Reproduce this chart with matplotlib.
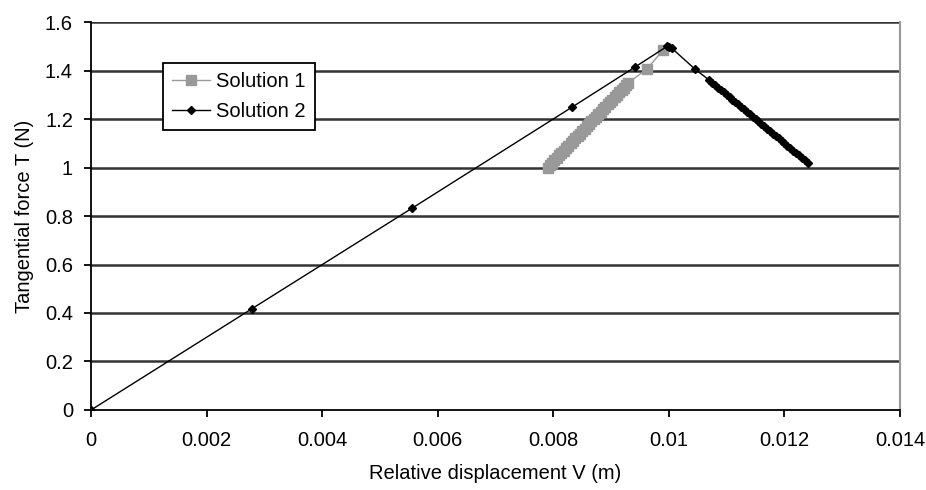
import matplotlib.pyplot as plt

plt.rcParams['font.family'] = ['Liberation Sans', 'DejaVu Sans']

# Solution 1 (grey squares)
v1 = [0.00790, 0.00794, 0.00798, 0.00802, 0.00806, 0.00810, 0.00814, 0.00818,
      0.00822, 0.00826, 0.00830, 0.00834, 0.00838, 0.00842, 0.00846, 0.00850,
      0.00854, 0.00858, 0.00862, 0.00866, 0.00870, 0.00874, 0.00878, 0.00882,
      0.00886, 0.00890, 0.00894, 0.00898, 0.00902, 0.00906, 0.00910, 0.00914,
      0.00918, 0.00922, 0.00926, 0.00930, 0.00962, 0.00990]
t1 = [1.000, 1.010, 1.020, 1.030, 1.040, 1.050, 1.060, 1.070,
      1.080, 1.090, 1.100, 1.110, 1.120, 1.130, 1.140, 1.150,
      1.160, 1.170, 1.180, 1.190, 1.200, 1.210, 1.220, 1.230,
      1.240, 1.250, 1.260, 1.270, 1.280, 1.290, 1.300, 1.310,
      1.320, 1.330, 1.340, 1.350, 1.406, 1.485]

# Solution 2 (black diamonds)
v2 = [0.0, 0.00278, 0.00556, 0.00833, 0.00941, 0.00997, 0.01000, 0.01005,
      0.01045, 0.01070, 0.01075, 0.01080, 0.01085, 0.01090, 0.01095, 0.01100,
      0.01105, 0.01110, 0.01115, 0.01120, 0.01125, 0.01130, 0.01135, 0.01140,
      0.01145, 0.01150, 0.01155, 0.01160, 0.01165, 0.01170, 0.01175, 0.01180,
      0.01185, 0.01190, 0.01195, 0.01200, 0.01205, 0.01210, 0.01215, 0.01220,
      0.01225, 0.01230, 0.01235, 0.01240]
t2 = [0.0, 0.417, 0.833, 1.250, 1.414, 1.500, 1.498, 1.492,
      1.406, 1.360, 1.350, 1.340, 1.330, 1.320, 1.310, 1.300,
      1.290, 1.280, 1.270, 1.260, 1.250, 1.240, 1.230, 1.220,
      1.210, 1.200, 1.190, 1.180, 1.170, 1.160, 1.150, 1.140,
      1.130, 1.120, 1.110, 1.100, 1.090, 1.080, 1.070, 1.060,
      1.050, 1.040, 1.030, 1.020]

xticks = [0, 0.002, 0.004, 0.006, 0.008, 0.01, 0.012, 0.014]
xlabels = ['0', '0.002', '0.004', '0.006', '0.008', '0.01', '0.012', '0.014']
yticks = [0, 0.2, 0.4, 0.6, 0.8, 1.0, 1.2, 1.4, 1.6]
ylabels = ['0', '0.2', '0.4', '0.6', '0.8', '1', '1.2', '1.4', '1.6']

fig = plt.figure(figsize=(9.26, 4.9), dpi=100)
ax = fig.add_axes([0.0983, 0.1633, 0.8737, 0.7917])

ax.plot(v1, t1, color='#999999', lw=1, marker='s', ms=7, mec='#999999',
        mfc='#999999', label='Solution 1', zorder=3)
ax.plot(v2, t2, color='black', lw=1, marker='D', ms=4.5, mec='black',
        mfc='black', label='Solution 2', zorder=4)

ax.set_xlim(0, 0.014)
ax.set_ylim(0, 1.6)
ax.set_xticks(xticks)
ax.set_xticklabels(xlabels)
ax.set_yticks(yticks)
ax.set_yticklabels(ylabels)

for y in yticks[1:]:
    ax.axhline(y, color='#333333', lw=1.8, zorder=1)

ax.spines['top'].set_visible(False)
ax.spines['right'].set_color('#999999')
ax.spines['right'].set_linewidth(1.5)
ax.spines['left'].set_linewidth(1.3)
ax.spines['bottom'].set_linewidth(1.3)
ax.tick_params(direction='out', length=5, width=1.3, labelsize=14.5, colors='black')
ax.tick_params(axis='x', pad=10)
ax.tick_params(axis='y', pad=8)

ax.set_xlabel('Relative displacement V (m)', fontsize=14.5, labelpad=10)
ax.set_ylabel('Tangential force T (N)', fontsize=14.5, labelpad=8)

leg = ax.legend(loc='upper left', bbox_to_anchor=(0.089, 0.894), borderaxespad=0,
                fontsize=14.5, frameon=True, fancybox=False, framealpha=1,
                edgecolor='black', handlelength=1.9, handletextpad=0.3,
                labelspacing=0.55, borderpad=0.45)
leg.get_frame().set_linewidth(1.3)

fig.savefig('out.png', dpi=100)
